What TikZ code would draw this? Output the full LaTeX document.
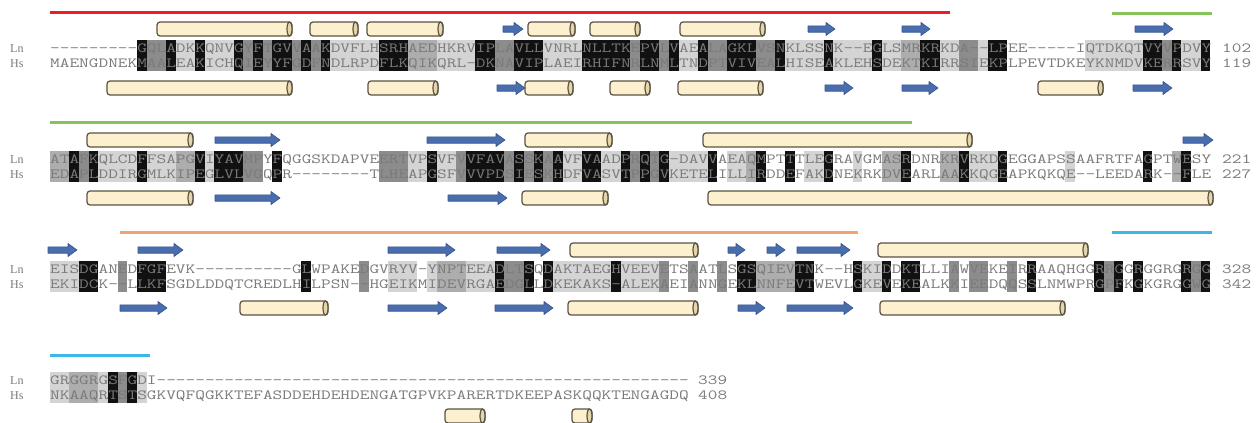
\documentclass[tikz,border=0pt]{standalone}
\usepackage{fontspec}
\usepackage{graphicx}
\setmainfont{Liberation Serif}
\definecolor{sK}{HTML}{111111}
\definecolor{sD}{HTML}{8C8C8C}
\definecolor{sM}{HTML}{ADADAD}
\definecolor{sL}{HTML}{D4D4D4}
\definecolor{txt}{HTML}{7A7A7A}
\definecolor{hxfill}{HTML}{FDF0CE}
\definecolor{hxedge}{HTML}{5B5343}
\definecolor{hxcap}{HTML}{E6D6AC}
\definecolor{arfill}{HTML}{4A6DAE}
\definecolor{aredge}{HTML}{34548C}
\definecolor{barred}{HTML}{EE1C25}
\definecolor{bargreen}{HTML}{86C35A}
\definecolor{barorange}{HTML}{F3A274}
\definecolor{barcyan}{HTML}{3DB8E6}
\tikzset{
  seq/.style={inner sep=0pt, anchor=base west, text=txt, font=\ttfamily\fontsize{14}{14}\selectfont},
  lbl/.style={inner sep=0pt, anchor=base west, text=txt, font=\rmfamily\fontsize{12}{12}\selectfont},
  hxs/.style={fill=hxfill, draw=hxedge, line width=1.2pt, rounded corners=3pt},
  hxc/.style={fill=hxcap, draw=hxedge, line width=1.2pt},
  sas/.style={fill=arfill, draw=aredge, line width=0.6pt, line join=round},
  bar/.style={line width=3pt}
}
\newcommand\sq[1]{\scalebox{1.342}[1]{#1}}
\newcommand\shd[3]{\foreach \a/\b/\c in {#3}{\fill[\c] ({50+(\a-1)*9.67},#1) rectangle ({50+\b*9.67},#2);}}
\newcommand\hx[3]{\draw[hxs] (#1,{#3-7}) rectangle (#2,{#3+7});
  \draw[hxc] ({#2-2.5},#3) ellipse [x radius=2.5, y radius=7];}
\newcommand\sa[3]{\filldraw[sas] (#1,{#3-3.2}) -- ({#2-9},{#3-3.2}) -- ({#2-9},{#3-6.5}) -- (#2,#3) -- ({#2-9},{#3+6.5}) -- ({#2-9},{#3+3.2}) -- (#1,{#3+3.2}) -- cycle;}
\begin{document}
\begin{tikzpicture}[x=1pt,y=-1pt]
\useasboundingbox (0,0) rectangle (1259,423);
\fill[white] (0,0) rectangle (1259,423);

% ---------- region bars
\draw[bar, barred] (50,12) -- (950,12);
\draw[bar, bargreen] (1112,13) -- (1212,13);
\draw[bar, bargreen] (50,122) -- (912,122);
\draw[bar, barorange] (120,232) -- (858,232);
\draw[bar, barcyan] (1112,232) -- (1212,232);
\draw[bar, barcyan] (50,355) -- (150,355);

% ---------- shading block 1
\shd{40}{71}{11/12/sD,14/15/sL,17/19/sL,21/21/sD,23/23/sD,26/26/sD,28/28/sD,30/34/sL,38/40/sM,41/44/sL,47/48/sD,52/55/sL,61/61/sD,64/64/sD,66/67/sL,69/70/sD,74/75/sD,77/80/sL,82/85/sL,87/88/sL,89/90/sM,93/94/sL,95/96/sD,97/97/sL,108/113/sL,116/116/sD,118/119/sL}
\shd{40}{71}{10/10/sK,13/13/sK,16/16/sK,20/20/sK,22/22/sK,24/25/sK,27/27/sK,29/29/sK,35/37/sK,45/46/sK,49/51/sK,56/60/sK,62/63/sK,65/65/sK,68/68/sK,71/73/sK,76/76/sK,81/81/sK,86/86/sK,91/92/sK,98/99/sK,114/115/sK,117/117/sK,120/120/sK}
% ---------- shading block 2
\shd{151}{182}{1/2/sM,4/4/sD,6/9/sL,11/13/sL,14/15/sM,17/17/sL,21/22/sD,35/37/sD,38/39/sL,41/42/sL,43/43/sD,48/48/sD,50/50/sD,52/52/sD,54/55/sL,58/59/sL,61/61/sD,63/63/sD,65/68/sL,71/72/sL,73/73/sM,79/80/sL,84/84/sL,87/88/sM,93/94/sM,96/98/sL,106/106/sL,117/117/sM}
\shd{151}{182}{3/3/sK,5/5/sK,10/10/sK,16/16/sK,18/20/sK,24/24/sK,40/40/sK,44/47/sK,49/49/sK,51/51/sK,53/53/sK,56/57/sK,60/60/sK,62/62/sK,64/64/sK,69/69/sK,74/74/sK,77/77/sK,81/81/sK,89/89/sK,95/95/sK,99/99/sK,114/114/sK,118/118/sK}
% ---------- shading block 3
\shd{261}{292}{1/3/sL,8/8/sD,33/33/sD,36/38/sL,40/40/sL,41/43/sM,44/46/sL,48/49/sD,53/58/sL,60/63/sL,64/64/sD,67/67/sD,70/70/sD,74/77/sM,85/86/sL,94/94/sD,96/97/sD,100/100/sD,110/110/sD,119/119/sD}
\shd{261}{292}{4/5/sK,10/12/sK,27/27/sK,47/47/sK,50/50/sK,52/52/sK,59/59/sK,72/73/sK,78/79/sK,84/84/sK,87/87/sK,89/90/sK,102/102/sK,109/109/sK,111/111/sK,113/113/sK,118/118/sK,120/120/sK}
% ---------- shading block 4
\shd{372}{403}{1/2/sL,3/5/sM,6/6/sL,8/8/sD,10/10/sL}
\shd{372}{403}{7/7/sK,9/9/sK}

% ---------- sequences
\node[lbl] (l1) at (10,52) {Ln};
\node[lbl] (h1) at (10,67) {Hs};
\node[seq] (ln1) at (50,52) {\sq{---------GQLADKKQNVGYFTGVVAAKDVFLHSRHAEDHKRVIPLAVLLVNRLNLLTKEPVLVAEALAGKLVSNKLSSNK--EGLSMRKRKDA--LPEE-----IQTDKQTVYVPDVY}};
\node[seq] (hs1) at (50,67) {\sq{MAENGDNEKMAALEAKICHQIEYYFGDFNDLRPDFLKQIKQRL-DKNAVIPLAEIRHIFNRLNMLTNDPTVIVEALHISEAKLEHSDEKTKIRRSIEKPLPEVTDKEYKNMDVKERRSVY}};
\node[seq] (nl1) at (1222,52) {\sq{102}};
\node[seq] (nh1) at (1222,67) {\sq{119}};

\node[lbl] (l2) at (10,163) {Ln};
\node[lbl] (h2) at (10,178) {Hs};
\node[seq] (ln2) at (50,163) {\sq{ATAFKQLCDFFSAPGVIYAVMPYFQGGSKDAPVEERTVPSVFVVFAVASSKAAVFVAADPRQTG-DAVVAEAQMPTTTLEGRAVGMASRDNRKRVRKDGEGGAPSSAAFRTFAGPTWESY}};
\node[seq] (hs2) at (50,178) {\sq{EDAPLDDIRGMLKIPEGLVLVGQPR--------TLHEAPGSFVVVPDSIESKHDFVASVTPPGVKETELILLIRDDEFAKDNEKRKDVEARLAAKKQGEAPKQKQE--LEEDARK--FLE}};
\node[seq] (nl2) at (1222,163) {\sq{221}};
\node[seq] (nh2) at (1222,178) {\sq{227}};

\node[lbl] (l3) at (10,273) {Ln};
\node[lbl] (h3) at (10,288) {Hs};
\node[seq] (ln3) at (50,273) {\sq{EISDGANEDFGFEVK----------GLWPAKEDGVRYV-YNPTEEADLTSQDAKTAEGHVEEVETSAATLSGSQIEVTNK--HSKIDDKTLLIAWVEKEIRRAAQHGGRRGGRGGRGRGG}};
\node[seq] (hs3) at (50,288) {\sq{EKIDCK--LLKFSGDLDDQTCREDLHILPSN--HGEIKMIDEVRGAEDGLLDKEKAKS-ALEKAEIANNGEKLNNFEVTWEVLGKEVEKEALKKIEEDQQSSLNMWPRGPFKGKGRGGWG}};
\node[seq] (nl3) at (1222,273) {\sq{328}};
\node[seq] (nh3) at (1222,288) {\sq{342}};

\node[lbl] (l4) at (10,384) {Ln};
\node[lbl] (h4) at (10,399) {Hs};
\node[seq] (ln4) at (50,384) {\sq{GRGGRGSFGDI-------------------------------------------------------}};
\node[seq] (hs4) at (50,399) {\sq{NKAAQRTSTSGKVQFQGKKTEFASDDEHDEHDENGATGPVKPARERTDKEEPASKQQKTENGAGDQ}};
\node[seq] (nl4) at (698,384) {\sq{339}};
\node[seq] (nh4) at (698,399) {\sq{408}};

% ---------- secondary structure, block 1
\hx{157}{292}{29} \hx{310}{358}{29} \hx{367}{443}{29} \hx{528}{575}{29} \hx{590}{640}{29} \hx{680}{765}{29}
\sa{503}{523}{29} \sa{808}{835}{29} \sa{902}{930}{29} \sa{1135}{1173}{29}
\hx{107}{292}{88} \hx{368}{438}{88} \hx{525}{573}{88} \hx{610}{650}{88} \hx{678}{763}{88} \hx{1038}{1103}{88}
\sa{497}{525}{88} \sa{825}{853}{88} \sa{902}{938}{88} \sa{1133}{1172}{88}
% ---------- block 2
\hx{87}{193}{140} \hx{525}{612}{140} \hx{703}{972}{140}
\sa{215}{280}{140} \sa{427}{505}{140} \sa{1183}{1213}{140}
\hx{87}{193}{198} \hx{522}{608}{198} \hx{708}{1213}{198}
\sa{215}{280}{198} \sa{448}{507}{198}
% ---------- block 3
\sa{48}{77}{250} \sa{138}{183}{250} \sa{388}{455}{250} \sa{497}{550}{250} \sa{728}{745}{250} \sa{767}{785}{250} \sa{797}{850}{250}
\hx{570}{698}{250} \hx{878}{1088}{250}
\sa{120}{167}{308} \sa{388}{447}{308} \sa{495}{553}{308} \sa{738}{765}{308} \sa{787}{853}{308}
\hx{240}{328}{308} \hx{568}{698}{308} \hx{880}{1065}{308}
% ---------- block 4
\hx{445}{485}{416} \hx{572}{592}{416}
\end{tikzpicture}
\end{document}
